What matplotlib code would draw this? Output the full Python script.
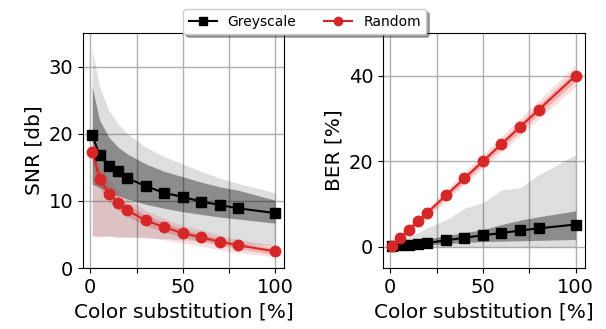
import matplotlib
matplotlib.use("Agg")
import matplotlib.pyplot as plt
import numpy as np

# color substitution levels (%)
x = np.array([1, 5, 10, 15, 20, 30, 40, 50, 60, 70, 80, 100])

# --- SNR [db] ---
snr_grey = np.array([19.8, 16.8, 15.2, 14.4, 13.4, 12.2, 11.2, 10.6, 9.9, 9.4, 8.9, 8.2])
snr_grey_in_lo = np.array([12.5, 12.0, 11.3, 10.8, 10.3, 9.5, 8.9, 8.4, 8.0, 7.6, 7.3, 6.7])
snr_grey_in_hi = np.array([27.0, 22.0, 19.5, 18.0, 17.0, 15.5, 14.4, 13.6, 12.8, 12.1, 11.6, 10.1])
snr_grey_out_lo = np.array([4.8, 4.8, 4.7, 4.7, 4.6, 4.5, 4.4, 4.2, 4.0, 3.8, 3.6, 3.3])
snr_grey_out_hi = np.array([32.5, 27.0, 23.5, 21.5, 20.0, 18.0, 16.6, 15.5, 14.4, 13.4, 12.6, 11.2])

snr_rand = np.array([17.3, 13.3, 11.1, 9.7, 8.6, 7.1, 6.1, 5.2, 4.6, 3.9, 3.4, 2.5])
snr_rand_in_lo = np.array([16.6, 12.0, 10.0, 8.7, 7.7, 6.3, 5.4, 4.6, 4.0, 3.4, 2.9, 2.0])
snr_rand_in_hi = np.array([18.0, 14.6, 12.2, 10.7, 9.5, 7.9, 6.8, 5.8, 5.1, 4.4, 3.9, 3.0])
snr_rand_out_lo = np.array([4.8, 4.6, 4.9, 4.5, 4.7, 4.6, 4.2, 3.7, 3.3, 2.7, 2.3, 1.7])
snr_rand_out_hi = np.array([18.5, 15.6, 13.2, 11.6, 10.3, 8.6, 7.4, 6.4, 5.7, 4.9, 4.3, 3.4])

# --- BER [%] ---
ber_grey = np.array([0.1, 0.3, 0.5, 0.7, 0.9, 1.5, 2.1, 2.7, 3.2, 3.8, 4.3, 5.2])
ber_grey_in_lo = np.array([0.0, 0.1, 0.2, 0.3, 0.4, 0.7, 1.0, 1.2, 1.3, 1.4, 1.5, 1.7])
ber_grey_in_hi = np.array([0.2, 0.6, 1.0, 1.4, 1.8, 2.6, 3.3, 4.0, 5.2, 6.2, 7.0, 8.4])
ber_grey_out_lo = np.array([0.0, 0.0, 0.0, 0.0, 0.0, 0.0, 0.0, 0.0, 0.0, 0.0, 0.0, 0.0])
ber_grey_out_hi = np.array([0.3, 1.3, 2.3, 3.3, 4.5, 6.2, 9.0, 10.3, 13.3, 13.8, 16.8, 21.5])

ber_rand = np.array([0.2, 2.0, 4.0, 6.0, 8.0, 12.0, 16.0, 20.0, 24.0, 28.0, 32.0, 40.0])
ber_rand_in_w = np.array([0.1, 0.3, 0.4, 0.5, 0.55, 0.65, 0.75, 0.8, 0.9, 1.0, 1.1, 1.2])
ber_rand_out_w = np.array([0.2, 0.6, 0.8, 1.0, 1.1, 1.3, 1.5, 1.6, 1.8, 2.0, 2.2, 2.5])

red = "tab:red"

fig = plt.figure(figsize=(6.06, 3.29), dpi=100)
ax1 = fig.add_axes([0.137, 0.185, 0.332, 0.715])
ax2 = fig.add_axes([0.632, 0.185, 0.333, 0.715])

# left panel: SNR
ax1.fill_between(x, snr_grey_out_lo, snr_grey_out_hi, color="k", alpha=0.13, lw=0)
ax1.fill_between(x, snr_grey_in_lo, snr_grey_in_hi, color="k", alpha=0.37, lw=0)
ax1.fill_between(x, snr_rand_out_lo, snr_rand_out_hi, color=red, alpha=0.15, lw=0)
ax1.fill_between(x, snr_rand_in_lo, snr_rand_in_hi, color=red, alpha=0.25, lw=0)
ax1.plot(x, snr_grey, color="k", marker="s", ms=7.5, lw=1.5, label="Greyscale")
ax1.plot(x, snr_rand, color=red, marker="o", ms=7.5, lw=1.5, label="Random")
ax1.set_ylim(0, 35)
ax1.set_yticks([0, 10, 20, 30])
ax1.set_ylabel("SNR [db]", fontsize=14.5)

# right panel: BER
ax2.fill_between(x, ber_grey_out_lo, ber_grey_out_hi, color="k", alpha=0.13, lw=0)
ax2.fill_between(x, ber_grey_in_lo, ber_grey_in_hi, color="k", alpha=0.37, lw=0)
ax2.fill_between(x, ber_rand - ber_rand_out_w, ber_rand + ber_rand_out_w, color=red, alpha=0.15, lw=0)
ax2.fill_between(x, ber_rand - ber_rand_in_w, ber_rand + ber_rand_in_w, color=red, alpha=0.25, lw=0)
ax2.plot(x, ber_grey, color="k", marker="s", ms=7.5, lw=1.5)
ax2.plot(x, ber_rand, color=red, marker="o", ms=7.5, lw=1.5)
ax2.set_ylim(-5, 50)
ax2.set_yticks([0, 20, 40])
ax2.set_ylabel("BER [%]", fontsize=14.5)

for ax in (ax1, ax2):
    ax.set_xlim(-3.95, 104.95)
    ax.set_xticks([0, 25, 50, 75, 100])
    ax.set_xticklabels(["0", "", "50", "", "100"])
    ax.tick_params(labelsize=14)
    ax.set_xlabel("Color substitution [%]", fontsize=14.5)
    ax.grid(True, color="#b0b0b0", lw=1)
    ax.set_axisbelow(True)

fig.legend(loc="upper center", bbox_to_anchor=(0.503, 0.972), ncol=2,
           fontsize=10, shadow=True, borderaxespad=0, framealpha=1,
           markerscale=0.8)

fig.savefig("out.png", dpi=100)
